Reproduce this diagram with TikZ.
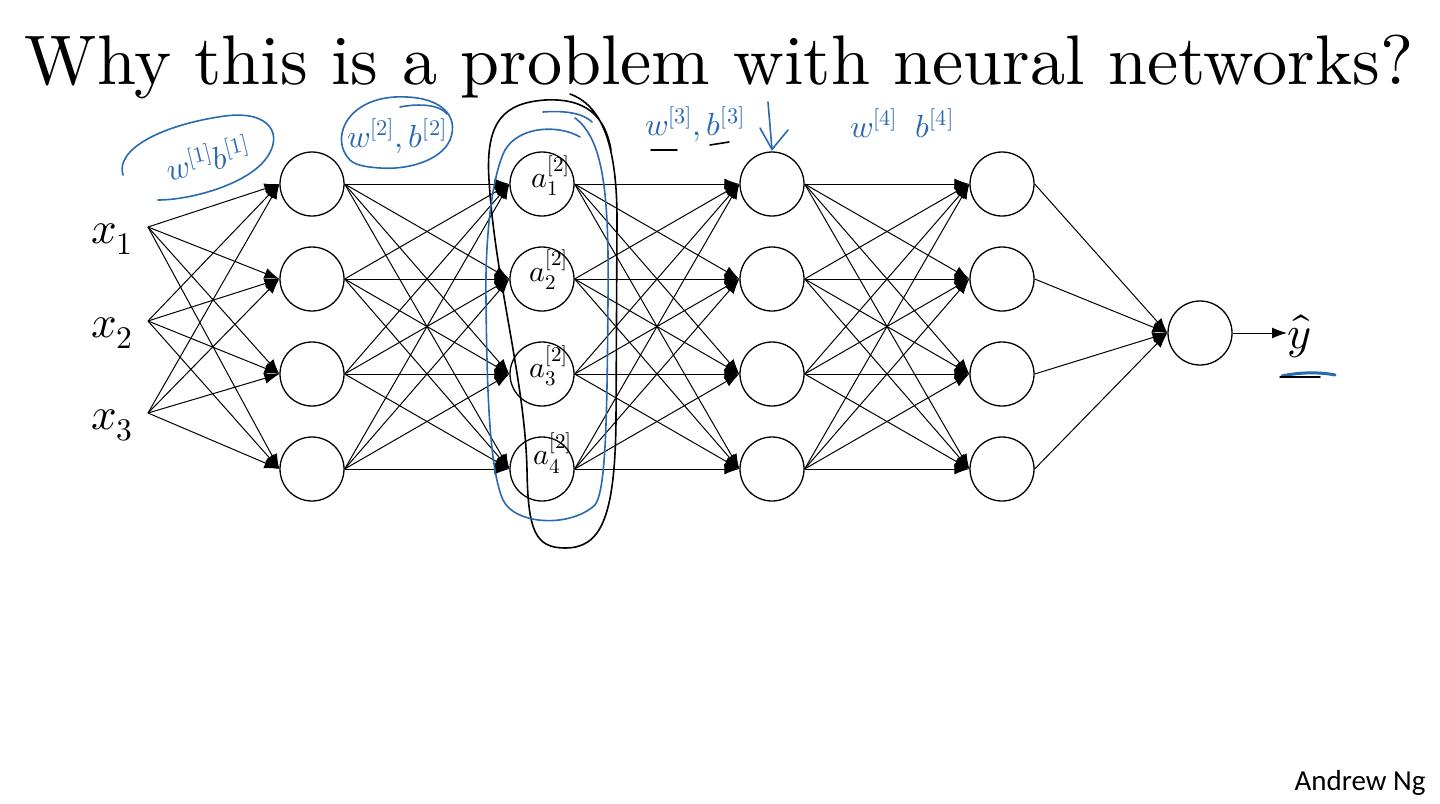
\documentclass[tikz,border=0pt]{standalone}
\usepackage{fontspec}
\usepackage{unicode-math}
\newfontfamily\carlito{Carlito}
\newfontfamily\titlefont{lmroman10-regular.otf}
\usetikzlibrary{arrows.meta,calc}
\definecolor{hand}{RGB}{40,105,175}
\begin{document}
\begin{tikzpicture}[x=1pt,y=-1pt,
  neuron/.style={circle,draw,line width=1.3pt,minimum size=64pt,inner sep=0pt},
  conn/.style={line width=1pt,-{Latex[length=15pt,width=11pt]}},
  blue ink/.style={hand,line width=1.6pt,line cap=round},
  black ink/.style={black,line width=1.6pt,line cap=round},
  handtext/.style={hand,font=\fontsize{32}{34}\selectfont,inner sep=0pt},
  atext/.style={font=\fontsize{30}{32}\selectfont,inner sep=0pt}]
\useasboundingbox (0,0) rectangle (1440,803);
\fill[white] (0,0) rectangle (1440,803);
% title
\node[font=\titlefont\fontsize{70.2}{80}\selectfont,anchor=base,inner sep=0pt] (title) at (719,84) {Why this is a problem with neural networks?};
% inputs
\foreach \i/\y in {1/227,2/321,3/413}{
  \coordinate (I\i) at (148,\y);
  \node[font=\fontsize{45}{50}\selectfont,inner sep=0pt] (xl\i) at (112,\y+12) {$x_{\i}$};
}
% layers
\foreach \l/\x in {1/312,2/542,3/772,4/1002}{
  \foreach \i/\y in {1/184,2/279,3/374,4/469}{
    \node[neuron] (L\l-\i) at (\x,\y) {};
  }
}
\node[neuron] (O) at (1200,333) {};
\node[font=\fontsize{46}{50}\selectfont,inner sep=0pt,anchor=west] (yhat) at (1287,336) {$\hat{y}$};
% connections
\foreach \i in {1,2,3}{\foreach \j in {1,2,3,4}{\draw[conn] (I\i) -- (L1-\j.west);}}
\foreach \l/\m in {1/2,2/3,3/4}{
  \foreach \i in {1,2,3,4}{\foreach \j in {1,2,3,4}{\draw[conn] (L\l-\i.east) -- (L\m-\j.west);}}
}
\foreach \i in {1,2,3,4}{\draw[conn] (L4-\i.east) -- (O.west);}
\draw[conn] (O.east) -- (O.east -| yhat.west);
% handwritten labels in layer 2
\node[atext] (a1) at (551,176) {$a^{[2]}_{1}$};
\node[atext] (a2) at (549,270) {$a^{[2]}_{2}$};
\node[atext] (a3) at (549,366) {$a^{[2]}_{3}$};
\node[atext] (a4) at (553,453) {$a^{[2]}_{4}$};
% black loop around layer 2
\draw[black ink] (570,94) .. controls (600,105) and (617,140) .. (617,220)
  -- (616,420) .. controls (615,520) and (600,548) .. (565,548)
  .. controls (535,548) and (528,530) .. (527,470)
  .. controls (525,380) and (495,280) .. (489,180)
  .. controls (485,120) and (505,103) .. (545,100)
  .. controls (585,98) and (605,115) .. (611,150);
% blue loop
\draw[blue ink] (543,112) .. controls (570,110) and (585,115) .. (592,122);
\draw[blue ink] (580,137) .. controls (560,125) and (520,125) .. (505,150)
  .. controls (490,180) and (485,250) .. (486,300)
  .. controls (487,400) and (490,470) .. (503,500)
  .. controls (515,525) and (570,528) .. (595,505)
  .. controls (606,490) and (607,420) .. (608,300)
  .. controls (609,200) and (605,140) .. (575,118);
% blue ellipse 1 and text
\draw[blue ink] (123,175) .. controls (115,150) and (160,125) .. (225,116)
  .. controls (270,110) and (285,135) .. (265,160)
  .. controls (245,185) and (190,200) .. (158,200);
\node[handtext,rotate=14] (w1) at (208,158) {$w^{[1]}b^{[1]}$};
% blue ellipse 2 and text
\draw[blue ink] (400,107) .. controls (420,103) and (440,105) .. (447,114);
\draw[blue ink] (350,160) .. controls (330,140) and (345,100) .. (395,97)
  .. controls (440,95) and (460,115) .. (450,140)
  .. controls (440,162) and (405,170) .. (380,168)
  .. controls (365,167) and (355,165) .. (350,160);
\node[handtext] (w2) at (397,136) {$w^{[2]},b^{[2]}$};
% w3 b3
\node[handtext] (w3) at (695,124) {$w^{[3]},b^{[3]}$};
\draw[black ink] (651,150) -- (677,150);
\draw[black ink] (710,145) -- (729,142);
% blue arrow into layer 3
\coordinate (ar0) at (768,102);
\draw[blue ink] (ar0) -- ($(L3-1.north)+(0,-2)$);
\draw[blue ink] (760,128) -- ($(L3-1.north)+(0,-2)$) -- (788,130);
% w4 b4
\node[handtext] (w4) at (902,123) {$w^{[4]}\;\;b^{[4]}$};
% underline under yhat
\draw[hand,line width=3pt,line cap=round] (1282,376) .. controls (1300,372) and (1320,372) .. (1335,375);
\draw[black,line width=1.5pt,line cap=round] (1280,377) -- (1320,377);
% footer
\node[font=\carlito\fontsize{29}{30}\selectfont,inner sep=0pt] (author) at (1360,783) {Andrew Ng};
\end{tikzpicture}
\end{document}
